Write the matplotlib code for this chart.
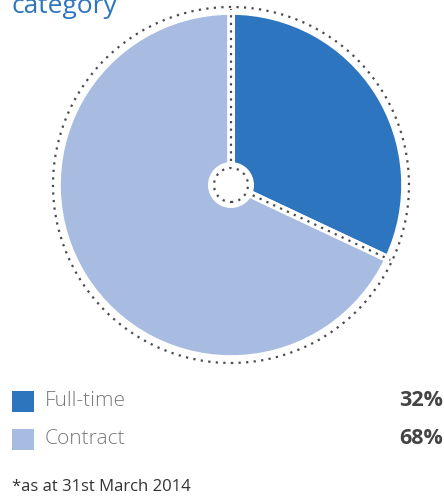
import matplotlib
matplotlib.use("Agg")
import matplotlib.pyplot as plt
from matplotlib.patches import Circle, Rectangle
import numpy as np

categories = ["Full-time", "Contract"]
values = [32, 68]
labels = ["32%", "68%"]
colors = ["#2E75BF", "#A8BCE1"]
title = "category"
footnote = "*as at 31st March 2014"

W, H = 444, 499
fig = plt.figure(figsize=(W / 100, H / 100), dpi=100)
ax = fig.add_axes([0, 0, 1, 1])

cx, cy, R = 231, H - 185, 174
ax.pie(values, colors=colors, startangle=90, counterclock=False, radius=R,
       center=(cx, cy), wedgeprops=dict(edgecolor="white", linewidth=5.5))
ax.set_xlim(0, W)
ax.set_ylim(0, H)
ax.set_aspect("equal")
ax.axis("off")

dot = dict(color="#4a4a4a", linewidth=1.6, linestyle=(0, (1, 2.4)))
ax.add_patch(Circle((cx, cy), 178, fill=False, **dot))
ax.add_patch(Circle((cx, cy), 23, facecolor="white", edgecolor="none", zorder=3))
ax.add_patch(Circle((cx, cy), 17, fill=False, zorder=4, **dot))

# separators along wedge boundaries
cum = np.cumsum([0] + values)
for c in cum[:-1]:
    ang = np.deg2rad(90 - 360 * c / sum(values))
    r = np.array([24, 176])
    ax.plot(cx + r * np.cos(ang), cy + r * np.sin(ang), zorder=4, **dot)

ax.text(11, H - 13, title, color="#2E75BF", fontsize=19, family="Open Sans",
        va="baseline", ha="left")

for i, (cat, lab, col) in enumerate(zip(categories, labels, colors)):
    yc = H - (401 + 38 * i)
    ax.add_patch(Rectangle((12, yc - 10.5), 22, 21, facecolor=col, edgecolor="none"))
    ax.text(45, yc, cat, color="#7a7a7a", fontsize=15, family="Open Sans",
            fontweight="light", va="center", ha="left")
    ax.text(443, yc, lab, color="#444444", fontsize=15.5, family="Open Sans",
            fontweight="bold", va="center", ha="right")

ax.text(12, H - 487, footnote, color="#333333", fontsize=12, family="Open Sans",
        va="center", ha="left")

fig.savefig("out.png", dpi=100)
